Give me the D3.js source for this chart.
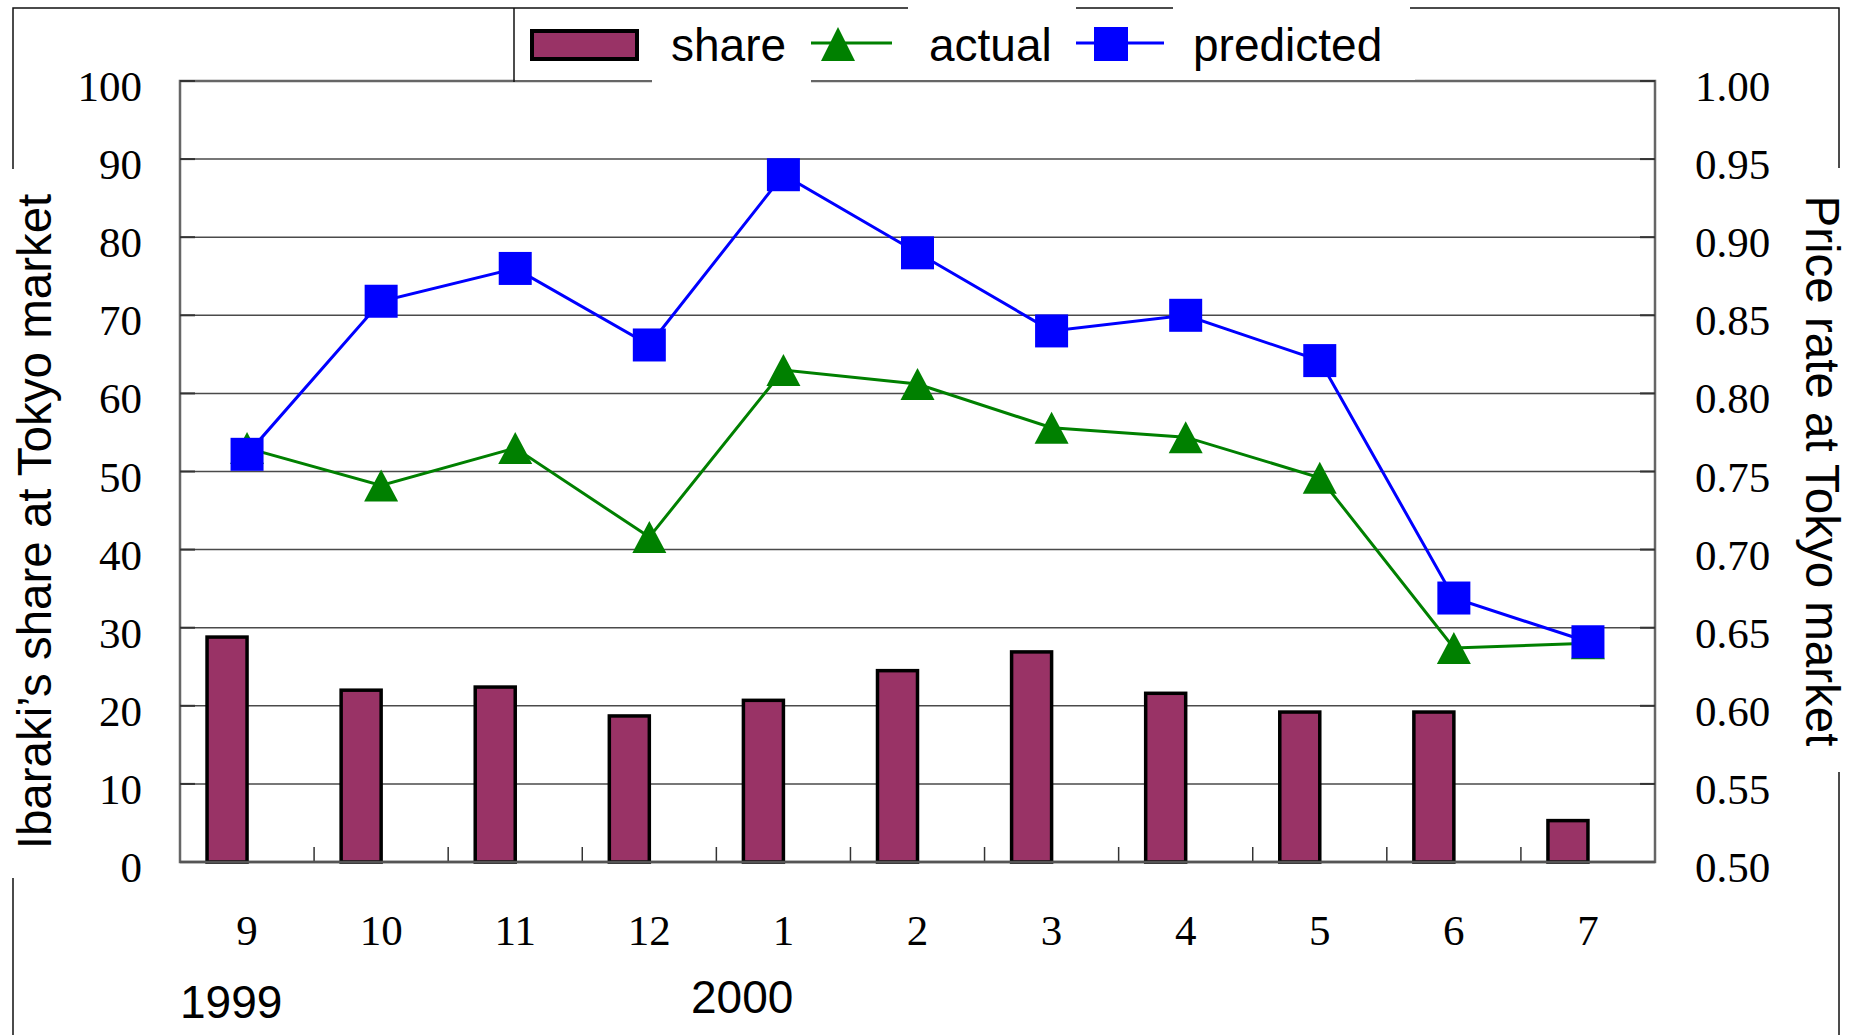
<!DOCTYPE html>
<html>
<head>
<meta charset="utf-8">
<script src="https://cdn.jsdelivr.net/npm/d3@7"></script>
<style>
  html, body { margin: 0; padding: 0; background: #fff; }
  svg { display: block; }
</style>
</head>
<body>
<svg id="chart" width="1852" height="1035"></svg>
<script>
// Monthly categories, Sep 1999 – Jul 2000
const months = ["9", "10", "11", "12", "1", "2", "3", "4", "5", "6", "7"];
// Ibaraki's share at Tokyo market (%), left axis
const share = [28.8, 22.0, 22.4, 18.7, 20.7, 24.5, 26.9, 21.6, 19.2, 19.2, 5.3];
// Price rate at Tokyo market, right axis
const actual = [0.765, 0.741, 0.765, 0.708, 0.815, 0.806, 0.778, 0.772, 0.746, 0.637, 0.640];
const predicted = [0.761, 0.859, 0.880, 0.831, 0.940, 0.890, 0.840, 0.850, 0.821, 0.669, 0.641];
// Axis tick labels
const leftTicks = [0, 10, 20, 30, 40, 50, 60, 70, 80, 90, 100];
const rightTicks = [0.50, 0.55, 0.60, 0.65, 0.70, 0.75, 0.80, 0.85, 0.90, 0.95, 1.00];
const yearLabels = ["1999", "2000"];
const legendLabels = ["share", "actual", "predicted"];

const svg = d3.select("#chart");
const plot = { left: 180, right: 1655, top: 81, bottom: 862 };

const x = d3.scaleBand().domain(months).range([plot.left, plot.right]).padding(0);
const yL = d3.scaleLinear().domain([0, 100]).range([plot.bottom, plot.top]);
const yR = d3.scaleLinear().domain([0.5, 1.0]).range([plot.bottom, plot.top]);
const cx = m => x(m) + x.bandwidth() / 2;

const serif = "'Liberation Serif', 'Times New Roman', serif";
const sans = "'Liberation Sans', Arial, sans-serif";

// Outer figure frame
svg.append("rect")
  .attr("x", 13).attr("y", 8).attr("width", 1826).attr("height", 1100)
  .attr("fill", "none").attr("stroke", "#111").attr("stroke-width", 1.5);

// Horizontal gridlines
svg.append("g").selectAll("line")
  .data(leftTicks.filter(t => t > 0 && t < 100))
  .join("line")
  .attr("x1", plot.left).attr("x2", plot.right)
  .attr("y1", d => yL(d)).attr("y2", d => yL(d))
  .attr("stroke", "#4a4a4a").attr("stroke-width", 1.5);

// Plot border
svg.append("rect")
  .attr("x", plot.left).attr("y", plot.top)
  .attr("width", plot.right - plot.left).attr("height", plot.bottom - plot.top)
  .attr("fill", "none").attr("stroke", "#666").attr("stroke-width", 2.5);

// Share bars (left axis)
svg.append("g").selectAll("rect")
  .data(months.map((m, i) => ({ m, v: share[i] })))
  .join("rect")
  .attr("x", d => cx(d.m) - 40)
  .attr("width", 40)
  .attr("y", d => yL(d.v))
  .attr("height", d => yL(0) - yL(d.v))
  .attr("fill", "#993366")
  .attr("stroke", "#000").attr("stroke-width", 3.5);

// Inner tick marks
const tickG = svg.append("g").attr("stroke", "#333").attr("stroke-width", 2);
leftTicks.forEach(t => {
  tickG.append("line").attr("x1", plot.left).attr("x2", plot.left + 15)
    .attr("y1", yL(t)).attr("y2", yL(t));
});
rightTicks.forEach(t => {
  tickG.append("line").attr("x1", plot.right - 15).attr("x2", plot.right)
    .attr("y1", yR(t)).attr("y2", yR(t));
});
months.slice(1).forEach(m => {
  tickG.append("line").attr("x1", x(m)).attr("x2", x(m))
    .attr("y1", plot.bottom - 15).attr("y2", plot.bottom)
    .attr("stroke-width", 1.5);
});

// Re-draw bottom axis on top of bars
svg.append("line")
  .attr("x1", plot.left).attr("x2", plot.right)
  .attr("y1", plot.bottom).attr("y2", plot.bottom)
  .attr("stroke", "#555").attr("stroke-width", 2.5);

// Lines (right axis)
const line = d3.line().x((d, i) => cx(months[i])).y(d => yR(d));
svg.append("path").datum(actual).attr("d", line)
  .attr("fill", "none").attr("stroke", "#008000").attr("stroke-width", 3);
svg.append("path").datum(predicted).attr("d", line)
  .attr("fill", "none").attr("stroke", "#0000ff").attr("stroke-width", 3);

const tri = (px, py, w, h) =>
  `M${px},${py - h / 2} L${px + w / 2},${py + h / 2} L${px - w / 2},${py + h / 2} Z`;

svg.append("g").selectAll("path")
  .data(actual)
  .join("path")
  .attr("d", (d, i) => tri(cx(months[i]), yR(d), 34, 32))
  .attr("fill", "#008000");

svg.append("g").selectAll("rect")
  .data(predicted)
  .join("rect")
  .attr("x", (d, i) => cx(months[i]) - 16.5)
  .attr("y", d => yR(d) - 16.5)
  .attr("width", 33).attr("height", 33)
  .attr("fill", "#0000ff");

// Left axis labels
svg.append("g").selectAll("text")
  .data(leftTicks)
  .join("text")
  .attr("x", 142).attr("y", d => yL(d) + 20)
  .attr("text-anchor", "end")
  .attr("font-family", serif).attr("font-size", 43)
  .text(d => d);

// Right axis labels
svg.append("g").selectAll("text")
  .data(rightTicks)
  .join("text")
  .attr("x", 1695).attr("y", d => yR(d) + 20)
  .attr("font-family", serif).attr("font-size", 43)
  .text(d => d3.format(".2f")(d));

// Month labels
svg.append("g").selectAll("text")
  .data(months)
  .join("text")
  .attr("x", d => cx(d)).attr("y", 945)
  .attr("text-anchor", "middle")
  .attr("font-family", serif).attr("font-size", 43)
  .text(d => d);

// Year labels
svg.append("text").attr("x", 180).attr("y", 1018)
  .attr("font-family", sans).attr("font-size", 46).text(yearLabels[0]);
svg.append("text").attr("x", 691).attr("y", 1013)
  .attr("font-family", sans).attr("font-size", 46).text(yearLabels[1]);

// Legend
const lg = svg.append("g");
lg.append("rect").attr("x", 515).attr("y", 9).attr("width", 900).attr("height", 71).attr("fill", "#fff");
lg.append("line").attr("x1", 514).attr("x2", 514).attr("y1", 8).attr("y2", 82)
  .attr("stroke", "#111").attr("stroke-width", 1.5);
// label backgrounds
lg.append("rect").attr("x", 652).attr("y", 10).attr("width", 159).attr("height", 77).attr("fill", "#fff");
lg.append("rect").attr("x", 908).attr("y", 0).attr("width", 168).attr("height", 78).attr("fill", "#fff");
lg.append("rect").attr("x", 1173).attr("y", 0).attr("width", 237).attr("height", 78).attr("fill", "#fff");

lg.append("rect").attr("x", 532).attr("y", 31).attr("width", 105).attr("height", 28)
  .attr("fill", "#993366").attr("stroke", "#000").attr("stroke-width", 4);
lg.append("text").attr("x", 671).attr("y", 61)
  .attr("font-family", sans).attr("font-size", 46).text(legendLabels[0]);

lg.append("line").attr("x1", 811).attr("x2", 892).attr("y1", 43).attr("y2", 43)
  .attr("stroke", "#008000").attr("stroke-width", 3);
lg.append("path").attr("d", tri(838, 44, 34, 34)).attr("fill", "#008000");
lg.append("text").attr("x", 929).attr("y", 61)
  .attr("font-family", sans).attr("font-size", 46).text(legendLabels[1]);

lg.append("line").attr("x1", 1076).attr("x2", 1164).attr("y1", 43).attr("y2", 43)
  .attr("stroke", "#0000ff").attr("stroke-width", 3);
lg.append("rect").attr("x", 1094).attr("y", 27).attr("width", 34).attr("height", 34).attr("fill", "#0000ff");
lg.append("text").attr("x", 1193).attr("y", 61)
  .attr("font-family", sans).attr("font-size", 46).text(legendLabels[2]);

// Axis titles
svg.append("rect").attr("x", 0).attr("y", 169).attr("width", 62).attr("height", 709).attr("fill", "#fff");
svg.append("text")
  .attr("transform", "translate(51,521.5) rotate(-90)")
  .attr("text-anchor", "middle")
  .attr("font-family", sans).attr("font-size", 47.5)
  .text("Ibaraki\u2019s share at Tokyo market");

svg.append("rect").attr("x", 1795).attr("y", 168).attr("width", 57).attr("height", 604).attr("fill", "#fff");
svg.append("text")
  .attr("transform", "translate(1806,471) rotate(90)")
  .attr("text-anchor", "middle")
  .attr("font-family", sans).attr("font-size", 47.5)
  .text("Price rate at Tokyo market");
</script>
</body>
</html>
